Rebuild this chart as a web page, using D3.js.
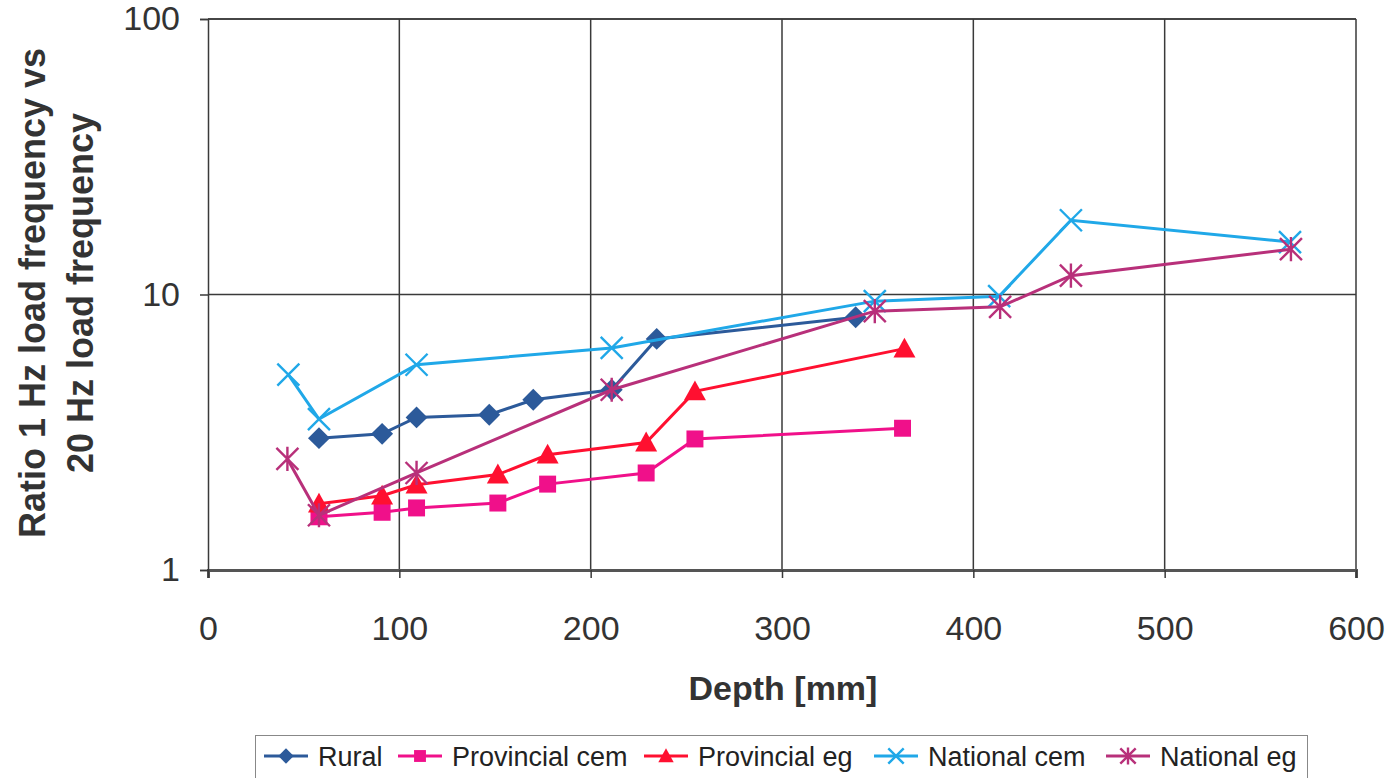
<!DOCTYPE html>
<html>
<head>
<meta charset="utf-8">
<script src="https://cdn.jsdelivr.net/npm/d3@7"></script>
<style>
  html, body { margin: 0; padding: 0; background: #fff; }
  svg { display: block; font-family: "Liberation Sans", Arial, sans-serif; }
</style>
</head>
<body>
<div id="chart"></div>
<script>
(function(){
  // Ratio of 1 Hz vs 20 Hz load frequency against depth, log y axis.
  const seriesNames = ['Rural', 'Provincial cem', 'Provincial eg', 'National cem', 'National eg'];

  const ruralDepth = [58, 91, 109, 147, 170, 211, 234.5, 338.5];
  const ruralRatio = [3.01, 3.12, 3.58, 3.66, 4.15, 4.51, 6.9, 8.27];

  const provCemDepth = [58, 91, 109, 151.5, 177.5, 229, 254.5, 363];
  const provCemRatio = [1.56, 1.62, 1.68, 1.75, 2.05, 2.25, 2.99, 3.27];

  const provEgDepth = [58, 91, 109, 151.5, 177.5, 229, 254.5, 364];
  const provEgRatio = [1.74, 1.86, 2.04, 2.22, 2.62, 2.9, 4.45, 6.36];

  const natCemDepth = [42, 58, 109, 211, 348.5, 413.5, 451, 565.5];
  const natCemRatio = [5.12, 3.53, 5.56, 6.4, 9.46, 9.86, 18.6, 15.5];

  const natEgDepth = [41.5, 58, 109, 211, 348.5, 414, 451, 566];
  const natEgRatio = [2.53, 1.58, 2.25, 4.51, 8.7, 9.02, 11.7, 14.6];

  const xTicks = [0, 100, 200, 300, 400, 500, 600];
  const yTicks = [1, 10, 100];

  const colors = ['#2c5a9a', '#f0108a', '#ff1030', '#20a8e8', '#b8307a'];
  const markers = ['diamond', 'square', 'triangle', 'cross', 'star'];

  const zip = (xs, ys) => xs.map((x, i) => ({depth: x, ratio: ys[i]}));
  const series = [
    zip(ruralDepth, ruralRatio),
    zip(provCemDepth, provCemRatio),
    zip(provEgDepth, provEgRatio),
    zip(natCemDepth, natCemRatio),
    zip(natEgDepth, natEgRatio)
  ].map((values, i) => ({name: seriesNames[i], values, color: colors[i], marker: markers[i]}));

  const width = 1397, height = 778;
  const svg = d3.select('#chart').append('svg').attr('width', width).attr('height', height);

  const x = d3.scaleLinear().domain([0, 600]).range([208, 1356]);
  const y = d3.scaleLog().domain([1, 100]).range([570, 19]);

  const textColor = '#333';
  const gridColor = '#3a3a3a';

  // Grid lines (vertical at each 100 mm, horizontal at each decade).
  svg.append('g').selectAll('line').data(xTicks.slice(1)).join('line')
    .attr('x1', d => x(d)).attr('x2', d => x(d))
    .attr('y1', y(100)).attr('y2', y(1))
    .attr('stroke', gridColor).attr('stroke-width', 1.5);

  svg.append('g').selectAll('line').data(yTicks.slice(1)).join('line')
    .attr('x1', x(0)).attr('x2', x(600))
    .attr('y1', d => y(d)).attr('y2', d => y(d))
    .attr('stroke', gridColor).attr('stroke-width', 1.5);

  // Axes
  const xAxis = d3.axisBottom(x).tickValues(xTicks).tickSize(8).tickPadding(38).tickFormat(d3.format('d'));
  const xg = svg.append('g').attr('transform', `translate(0,${y(1)})`).call(xAxis);
  xg.select('.domain').attr('stroke', '#555').attr('stroke-width', 3);
  xg.selectAll('.tick line').attr('stroke', gridColor).attr('stroke-width', 1.5);
  xg.selectAll('.tick text').attr('fill', textColor).style('font-size', '34px');

  const yAxis = d3.axisLeft(y).tickValues(yTicks).tickSize(8).tickPadding(20).tickFormat(d3.format('d'));
  const yg = svg.append('g').attr('transform', `translate(${x(0)},0)`).call(yAxis);
  yg.select('.domain').attr('stroke', gridColor).attr('stroke-width', 1.5);
  yg.selectAll('.tick line').attr('stroke', gridColor).attr('stroke-width', 1.5);
  yg.selectAll('.tick text').attr('fill', textColor).style('font-size', '34px');

  // Axis titles
  svg.append('text')
    .attr('x', 783).attr('y', 700)
    .attr('text-anchor', 'middle')
    .attr('fill', textColor)
    .style('font-size', '34px').style('font-weight', 'bold')
    .text('Depth [mm]');

  const yTitle = svg.append('text')
    .attr('transform', 'translate(0,293) rotate(-90)')
    .attr('text-anchor', 'middle')
    .attr('fill', textColor)
    .style('font-size', '36px').style('font-weight', 'bold');
  yTitle.append('tspan').attr('x', 0).attr('y', 45).text('Ratio 1 Hz load frequency vs');
  yTitle.append('tspan').attr('x', 0).attr('y', 93).text('20 Hz load frequency');

  // Marker drawing
  function drawMarker(sel, kind, color, s){
    if(kind === 'diamond'){
      sel.append('path').attr('d', d3.symbol(d3.symbolSquare, s * s * 0.6)())
        .attr('transform', 'rotate(45)').attr('fill', color);
    } else if(kind === 'square'){
      sel.append('path').attr('d', d3.symbol(d3.symbolSquare, s * s * 0.72)()).attr('fill', color);
    } else if(kind === 'triangle'){
      const h = s * 0.55;
      sel.append('path').attr('d', `M0,${-h}L${h},${h * 0.8}L${-h},${h * 0.8}Z`).attr('fill', color);
    } else {
      const h = s * 0.55;
      let d = `M${-h},${-h}L${h},${h}M${h},${-h}L${-h},${h}`;
      if(kind === 'star') d += `M0,${-h * 1.1}L0,${h * 1.1}`;
      sel.append('path').attr('d', d).attr('stroke', color).attr('stroke-width', 2.4).attr('fill', 'none');
    }
  }

  const line = d3.line().x(d => x(d.depth)).y(d => y(d.ratio));

  series.forEach(s => {
    const g = svg.append('g');
    g.append('path').datum(s.values)
      .attr('d', line)
      .attr('fill', 'none')
      .attr('stroke', s.color)
      .attr('stroke-width', 3);
    g.selectAll('g.mk').data(s.values).join('g')
      .attr('class', 'mk')
      .attr('transform', d => `translate(${x(d.depth)},${y(d.ratio)})`)
      .each(function(){ drawMarker(d3.select(this), s.marker, s.color, 20); });
  });

  // Top border of the plot area.
  svg.append('line').attr('x1', x(0)).attr('x2', x(600)).attr('y1', y(100)).attr('y2', y(100))
    .attr('stroke', gridColor).attr('stroke-width', 1.5);

  // Legend
  const legend = svg.append('g');
  legend.append('rect').attr('x', 255.5).attr('y', 735.5).attr('width', 1052).attr('height', 60)
    .attr('fill', '#fff').attr('stroke', '#888').attr('stroke-width', 1);

  const legendX = [264, 398, 644, 874, 1106];
  series.forEach((s, i) => {
    const g = legend.append('g').attr('transform', `translate(${legendX[i]},756)`);
    g.append('line').attr('x1', 0).attr('x2', 44).attr('stroke', s.color).attr('stroke-width', 3);
    const m = g.append('g').attr('transform', 'translate(22,0)');
    drawMarker(m, s.marker, s.color, 14);
    g.append('text').attr('x', 54).attr('y', 10)
      .attr('fill', '#222')
      .style('font-size', '27px')
      .text(s.name);
  });
})();
</script>
</body>
</html>
